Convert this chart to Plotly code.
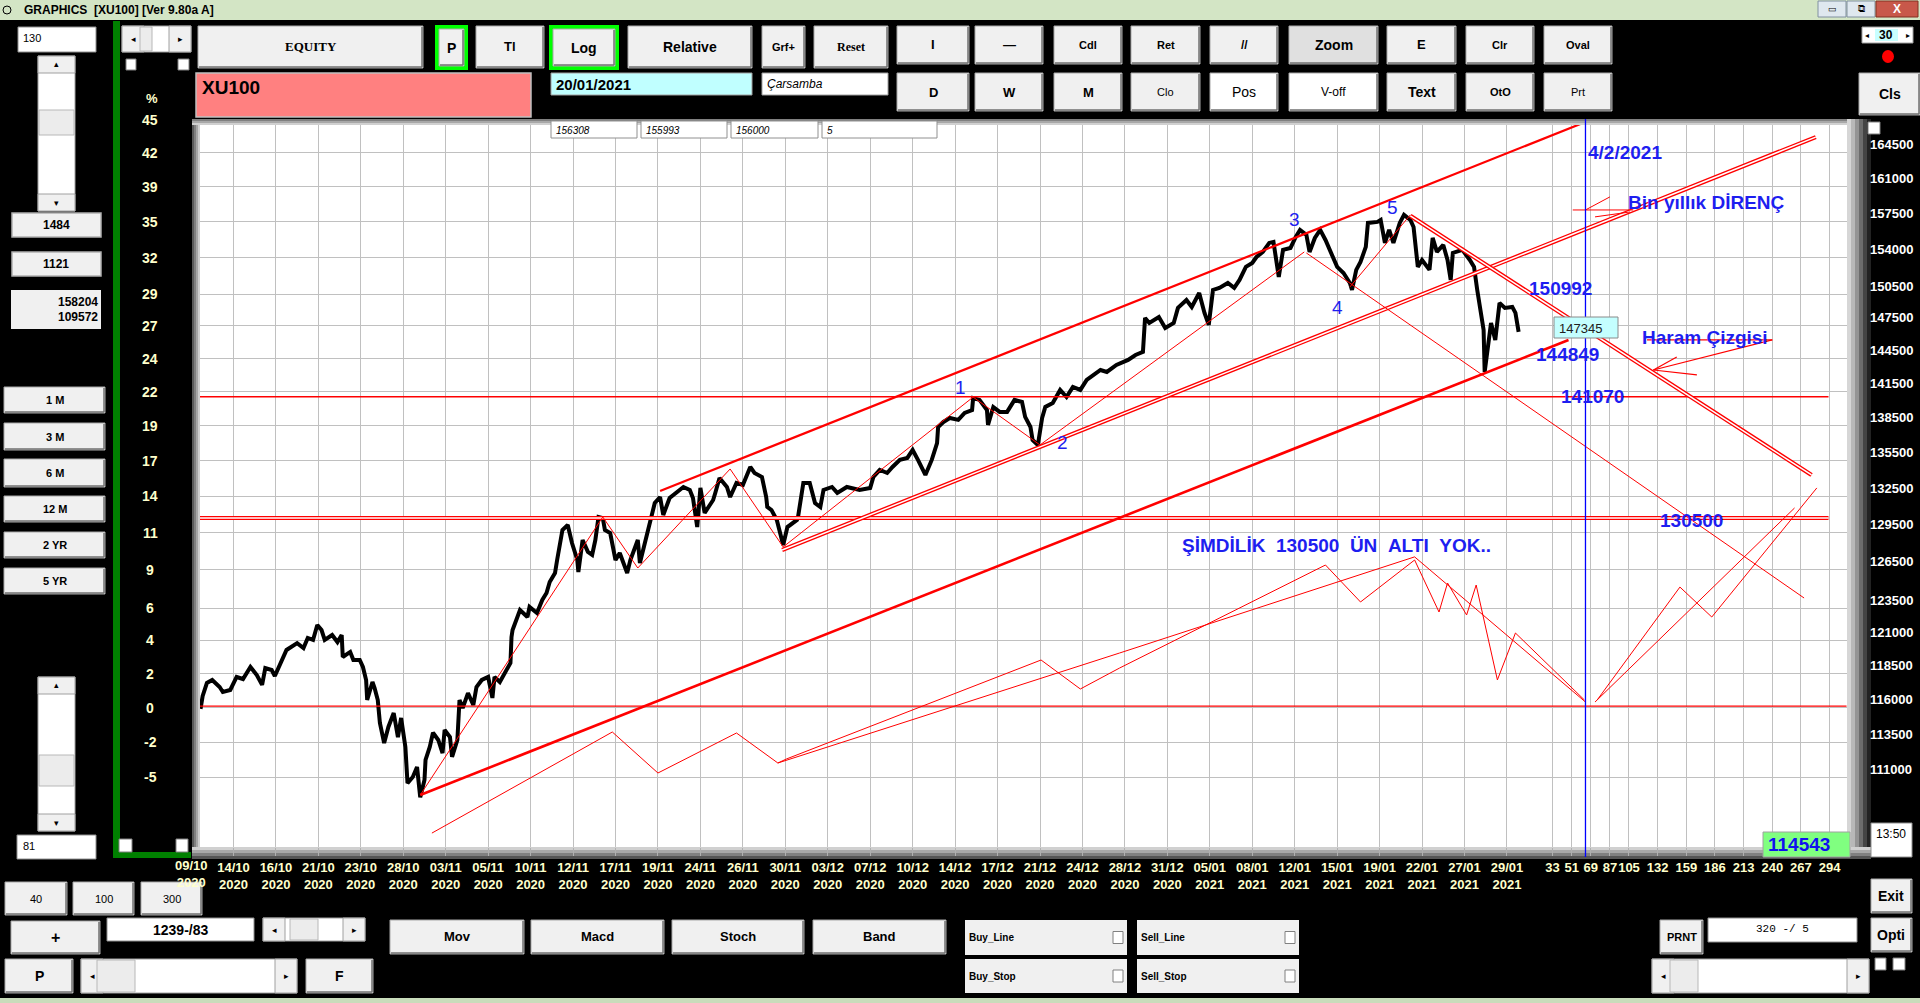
import math
import plotly.graph_objects as go

W, H = 1920, 1003
PL, PR, PT, PB = 200, 1847, 125, 847

# ---------------- data ----------------
date_labels = ["09/10", "14/10", "16/10", "21/10", "23/10", "28/10", "03/11", "05/11",
               "10/11", "12/11", "17/11", "19/11", "24/11", "26/11", "30/11", "03/12",
               "07/12", "10/12", "14/12", "17/12", "21/12", "24/12", "28/12", "31/12",
               "05/01", "08/01", "12/01", "15/01", "19/01", "22/01", "27/01", "29/01"]
date_years = ["2020"] * 24 + ["2021"] * 8
date_bars = [0, 40, 80, 120, 160, 200, 240, 280, 320, 360, 400, 440, 480, 520, 560, 600,
             640, 680, 720, 760, 800, 840, 880, 920, 960, 1000, 1040, 1080, 1120, 1160, 1200, 1240]
last_bar = 1250
future_offsets = [33, 51, 69, 87, 105, 132, 159, 186, 213, 240, 267, 294]

price_axis_labels = [164500, 161000, 157500, 154000, 150500, 147500, 144500, 141500, 138500,
                     135500, 132500, 129500, 126500, 123500, 121000, 118500, 116000, 113500, 111000]
pct_labels = ["45", "42", "39", "35", "32", "29", "27", "24", "22", "19", "17", "14", "11",
              "9", "6", "4", "2", "0", "-2", "-5"]
pct_label_prices = [167900] + price_axis_labels

price_bars = [9, 11, 15, 20, 27, 30, 37, 43, 49, 56, 62, 67, 70, 76, 79, 86, 90, 100, 106, 110,
              115, 119, 123, 126, 133, 138, 142, 143, 150, 153, 159, 162, 165, 166, 171, 173, 176,
              178, 182, 186, 191, 195, 198, 202, 204, 209, 213, 216, 220, 221, 225, 228, 233, 237,
              239, 244, 246, 251, 253, 256, 261, 266, 269, 274, 280, 284, 286, 291, 296, 301, 302,
              303, 310, 317, 319, 326, 331, 335, 338, 343, 345, 350, 355, 359, 364, 365, 369, 374,
              378, 381, 384, 388, 390, 395, 400, 404, 411, 414, 421, 423, 430, 437, 442, 445, 451,
              464, 470, 473, 477, 480, 484, 492, 494, 498, 505, 508, 514, 520, 527, 531, 538, 542,
              543, 547, 552, 558, 562, 571, 572, 577, 583, 588, 593, 596, 604, 609, 618, 630, 640,
              643, 649, 656, 661, 668, 675, 680, 685, 692, 698, 703, 704, 709, 715, 723, 729, 736,
              737, 743, 750, 751, 756, 762, 769, 776, 783, 786, 791, 793, 798, 802, 805, 812, 819,
              825, 831, 838, 844, 857, 863, 872, 883, 890, 897, 899, 903, 912, 918, 926, 930, 938,
              943, 950, 955, 959, 963, 969, 977, 983, 988, 994, 1000, 1004, 1010, 1016, 1020, 1025,
              1029, 1036, 1041, 1045, 1051, 1054, 1059, 1064, 1069, 1074, 1080, 1086, 1092, 1094,
              1098, 1102, 1107, 1109, 1118, 1121, 1125, 1129, 1133, 1139, 1143, 1149, 1152, 1156,
              1160, 1167, 1170, 1174, 1180, 1184, 1187, 1189, 1198, 1205, 1209, 1212, 1215, 1218,
              1219, 1222, 1225, 1229, 1233, 1238, 1245, 1248, 1251]
price_vals = [115900, 116850, 117810, 118030, 117510, 117140, 117290, 118250, 118100, 119000,
              118400, 117660, 118920, 118770, 118320, 119520, 120280, 120800, 120430, 121190,
              121040, 122190, 121800, 121040, 121420, 120880, 121420, 119750, 120130, 119520,
              119520, 119000, 118030, 116550, 117880, 117430, 116550, 114880, 113430, 114590,
              115600, 113860, 115240, 113150, 110610, 111030, 111740, 109630, 110820, 112240,
              113150, 114170, 113650, 112720, 114370, 113860, 112450, 113650, 116550, 115960,
              117060, 116180, 117510, 118030, 118250, 116700, 118250, 117880, 118620, 119300,
              121260, 121800, 123350, 122800, 123580, 123110, 124130, 124670, 125540, 126250,
              127290, 129720, 130130, 128660, 127290, 126330, 128900, 127940, 127700, 128900,
              130790, 130700, 129720, 129470, 127290, 127850, 126250, 127290, 128900, 127050,
              129470, 131940, 132440, 130950, 132360, 133280, 133030, 132360, 129960, 133200,
              131120, 132190, 132780, 134040, 133280, 132440, 133620, 133450, 134970, 134460,
              134120, 132440, 131610, 131360, 130540, 128500, 129960, 130540, 130790, 133620,
              133620, 131940, 131610, 133030, 133280, 132780, 133280, 133030, 133200, 134120,
              134720, 134460, 134970, 135570, 135740, 136420, 135570, 134290, 135570, 137020,
              138410, 138850, 139200, 139030, 139640, 139900, 140960, 140790, 139900, 138590,
              140160, 139730, 139730, 140790, 140610, 139290, 138410, 137290, 136850, 139200,
              140170, 140520, 141680, 141050, 141940, 141680, 142570, 143470, 143290, 143920,
              144380, 144830, 145110, 148250, 147780, 148340, 147320, 147780, 149190, 149940,
              149280, 150600, 148720, 147600, 150890, 151080, 151550, 151080, 151840, 153090,
              153470, 154050, 154540, 155420, 155520, 152130, 154740, 154930, 156010, 156700,
              156200, 154540, 155910, 156700, 155710, 154540, 153090, 152510, 151550, 150890,
              152800, 153570, 155030, 157390, 157490, 157690, 155420, 156700, 155420, 157390,
              158190, 157690, 156990, 153090, 153760, 152800, 155910, 154540, 155220, 153760,
              151840, 154440, 154740, 153760, 153090, 150890, 149000, 147130, 143290, 145580,
              147780, 146210, 149660, 149190, 149280, 148720, 146950]

# user-drawn red lines (bar index, price)
upper_channel_bars = [442, 1321]
upper_channel_vals = [132950, 168035]
lower_support_bars = [216, 1298]
lower_support_vals = [109780, 146210]
mid_channel_bars = [557, 1531]
mid_channel_vals = [128096, 166130]
haram_bars = [1149, 1527]
haram_vals = [158090, 134290]
long_down_bars = [1051, 1520]
long_down_vals = [154440, 124280]
wave_bars = [216, 388, 421, 508, 558, 737, 800, 1049]
wave_vals = [109780, 130786, 126650, 134800, 128340, 141040, 136855, 154540]
wave45_bars = [1092, 1149]
wave45_vals = [151170, 158190]
low_zig_bars = [227, 397, 440, 514, 553]
low_zig_vals = [107180, 114224, 111313, 114152, 112016]
fan1_bars = [553, 561, 801, 838, 875, 1069, 1102, 1153, 1176, 1184, 1202, 1211, 1231, 1248, 1313]
fan1_vals = [112016, 112298, 119522, 117360, 118920, 126890, 123970, 127290, 123190, 125460,
             122960, 125300, 118030, 121570, 116550]
fan2_bars = [553, 875, 1153, 1314]
fan2_vals = [112016, 120050, 127540, 116400]
rise1_bars = [1325, 1403, 1433, 1532]
rise1_vals = [116550, 125140, 122800, 133200]
rise2_bars = [1323, 1511]
rise2_vals = [116400, 131530]
h_levels = [141070, 130700, 116100]
h_level_end_bars = [1543, 1543, 1560]
direnc_arrow_bars = [[1302, 1359], [1314, 1337], [1323, 1356]]
direnc_arrow_vals = [[158680, 158680], [158680, 159990], [157990, 158480]]
haram_arrow_bars = [[1372, 1490], [1378, 1490], [1378, 1400], [1378, 1419]]
haram_arrow_vals = [[146210, 146210], [143470, 146210], [143470, 144650], [143470, 143020]]
date_marker_bar = 1314
value_labels = ["150992", "144849", "141070", "130500"]

# ---------------- helpers ----------------
def px(x):
    return (x - PL) / (PR - PL)


def py(y):
    return (PB - y) / (PB - PT)


shapes = []
annos = []


def rect(x0, y0, x1, y1, fill, line="rgba(0,0,0,0)", lw=0, layer="above"):
    shapes.append(dict(type="rect", xref="paper", yref="paper", x0=px(x0), x1=px(x1),
                       y0=py(y1), y1=py(y0), fillcolor=fill,
                       line=dict(color=line, width=lw), layer=layer))


def seg(x0, y0, x1, y1, color, w=1, layer="above"):
    shapes.append(dict(type="line", xref="paper", yref="paper", x0=px(x0), x1=px(x1),
                       y0=py(y0), y1=py(y1), line=dict(color=color, width=w), layer=layer))


def txt(x, y, s, size=12, color="black", bold=False, anchor="center", italic=False,
        family="Arial"):
    if bold:
        s = "<b>" + s + "</b>"
    if italic:
        s = "<i>" + s + "</i>"
    annos.append(dict(xref="paper", yref="paper", x=px(x), y=py(y), text=s, showarrow=False,
                      xanchor=anchor, yanchor="middle",
                      font=dict(size=size, color=color, family=family)))


def button(x0, y0, x1, y1, label, size=13, bold=True, fill="#f0f0f0", family="Arial"):
    rect(x0, y0, x1, y1, fill, "#a8a8a8", 1)
    seg(x0 + 1, y1 - 1, x1 - 1, y1 - 1, "#707070", 1.5)
    seg(x1 - 1, y0 + 1, x1 - 1, y1 - 1, "#707070", 1.5)
    txt((x0 + x1) / 2, (y0 + y1) / 2, label, size, bold=bold, family=family)


def checkbox(x0, y0, x1, y1):
    rect(x0, y0, x1, y1, "white", "#808080", 1)


def hscroll(x0, y0, x1, y1, t0, t1):
    rect(x0, y0, x1, y1, "white", "#a0a0a0", 1)
    aw = min(22, (y1 - y0))
    rect(x0, y0, x0 + aw, y1, "#f0f0f0", "#a0a0a0", 1)
    rect(x1 - aw, y0, x1, y1, "#f0f0f0", "#a0a0a0", 1)
    rect(t0, y0 + 1, t1, y1 - 1, "#ececec", "#b8b8b8", 1)
    txt(x0 + aw / 2, (y0 + y1) / 2, "◂", 9)
    txt(x1 - aw / 2, (y0 + y1) / 2, "▸", 9)


def vscroll(x0, y0, x1, y1, t0, t1):
    rect(x0, y0, x1, y1, "white", "#a0a0a0", 1)
    rect(x0, y0, x1, y0 + 17, "#f0f0f0", "#a0a0a0", 1)
    rect(x0, y1 - 17, x1, y1, "#f0f0f0", "#a0a0a0", 1)
    if t1 > t0:
        rect(x0 + 1, t0, x1 - 1, t1, "#ececec", "#b8b8b8", 1)
    txt((x0 + x1) / 2, y0 + 8, "▴", 9)
    txt((x0 + x1) / 2, y1 - 8, "▾", 9)


# ---------------- figure ----------------
fig = go.Figure()

fig.add_trace(go.Scatter(x=price_bars, y=price_vals, mode="lines",
                         line=dict(color="black", width=4), hoverinfo="skip"))


def red(xs, ys, w=1.0):
    fig.add_trace(go.Scatter(x=xs, y=ys, mode="lines", line=dict(color="#ff0000", width=w),
                             hoverinfo="skip"))


def dred(xs, ys):
    red(xs, ys, 4.2)
    fig.add_trace(go.Scatter(x=xs, y=ys, mode="lines", line=dict(color="white", width=1.5),
                             hoverinfo="skip"))


x_left = (PL - 191) / 1.06125
x_right = (PR - 191) / 1.06125

for lv, eb in zip(h_levels, h_level_end_bars):
    if lv == 130700:
        dred([x_left, eb], [lv, lv])
    else:
        red([x_left, eb], [lv, lv], 1.3)

red(upper_channel_bars, upper_channel_vals, 2.2)
red(lower_support_bars, lower_support_vals, 2.6)
dred(mid_channel_bars, mid_channel_vals)
dred(haram_bars, haram_vals)
red(long_down_bars, long_down_vals, 1)
red(wave_bars, wave_vals, 1)
red(wave45_bars, wave45_vals, 1)
red(low_zig_bars, low_zig_vals, 1)
red(fan1_bars, fan1_vals, 1)
red(fan2_bars, fan2_vals, 1)
red(rise1_bars, rise1_vals, 1)
red(rise2_bars, rise2_vals, 1)
for xs, ys in zip(direnc_arrow_bars, direnc_arrow_vals):
    red(xs, ys, 1)
for xs, ys in zip(haram_arrow_bars, haram_arrow_vals):
    red(xs, ys, 1.2)

# vertical date marker
shapes.append(dict(type="line", xref="x", yref="paper", x0=date_marker_bar, x1=date_marker_bar,
                   y0=py(857), y1=py(119), line=dict(color="#0000ff", width=1.3), layer="above"))

# ticks
tickvals = date_bars + [last_bar + o for o in future_offsets]
ticktext = [d + "<br>" + y for d, y in zip(date_labels, date_years)] + [str(o) for o in future_offsets]

fig.update_xaxes(range=[x_left, x_right], tickvals=tickvals[1:], ticktext=ticktext[1:],
                 tickangle=0, showgrid=True, gridcolor="#c0c0c0", gridwidth=1, zeroline=False,
                 ticks="outside", ticklen=8, tickcolor="#b0b0b0", showline=False,
                 tickfont=dict(family="Arial", size=13, color="#ffffcc", weight="bold"))
fig.update_yaxes(type="log", range=[math.log10(106245), math.log10(167400)],
                 tickvals=price_axis_labels, showticklabels=False, showgrid=True,
                 gridcolor="#c0c0c0", gridwidth=1, zeroline=False, ticks="", showline=False)

# first date label (sits left of the plot edge, at bar 0)
x0_px = 191 + date_bars[0] * 1.06125
annos.append(dict(xref="paper", x=px(x0_px), yref="paper", y=py(856), yanchor="top",
                  xanchor="center", showarrow=False,
                  text="<b>" + date_labels[0] + "<br>" + date_years[0] + "</b>",
                  font=dict(family="Arial", size=13, color="#ffffcc")))

# right price labels / left percent labels
for v in price_axis_labels:
    annos.append(dict(xref="paper", x=px(1891), yref="y", y=math.log10(v), yshift=8,
                      showarrow=False, xanchor="center", yanchor="middle",
                      text="<b>%d</b>" % v, font=dict(family="Arial", size=13, color="white")))
for lab, v in zip(pct_labels[1:], pct_label_prices[1:]):
    annos.append(dict(xref="paper", x=px(150), yref="y", y=math.log10(v),
                      showarrow=False, xanchor="center", yanchor="middle",
                      text="<b>%s</b>" % lab, font=dict(family="Arial", size=14, color="#ffffcc")))
# top percent label lies above the axis range -> paper position
txt(150, 120, pct_labels[0], 14, "#ffffcc", bold=True)

# ---------------- plot frame (3D border) ----------------
for i, c in enumerate(["#5a5a5a", "#808080", "#a6a6a6", "#cfcfcf"]):
    rect(192 + 2 * i, 119, 194 + 2 * i, 858, c, layer="below")
for i, c in enumerate(["#808080", "#a8a8a8", "#d0d0d0"]):
    rect(192, 119 + 2 * i, 1871, 121 + 2 * i, c, layer="below")
for i, c in enumerate(["#d6d6d6", "#b8b8b8", "#949494", "#6c6c6c", "#444444", "#222222"]):
    rect(1847 + 4 * i, 119, 1851 + 4 * i, 858, c, layer="below")
for i, c in enumerate(["#d0d0d0", "#a8a8a8", "#808080", "#555555"]):
    rect(192, 847 + 3 * i, 1871, 850 + 3 * i, c, layer="below")

# ---------------- chart texts ----------------
BLUE = "#1e1ef0"
txt(1586, 153, "4/2/2021", 19, BLUE, bold=True, anchor="left")
txt(1626, 203, "Bin yıllık DİRENÇ", 19, BLUE, bold=True, anchor="left")
for lab, xl in zip(value_labels, [1527, 1534, 1559, 1658]):
    annos.append(dict(xref="paper", x=px(xl), yref="y", y=math.log10(int(lab)),
                      showarrow=False, xanchor="left", yanchor="middle",
                      text="<b>%s</b>" % lab, font=dict(family="Arial", size=19, color=BLUE)))
txt(1640, 337, "Haram Çizgisi", 19, BLUE, bold=True, anchor="left")
nb = "\u00a0"
txt(1180, 545, "ŞİMDİLİK" + nb * 2 + "130500" + nb * 2 + "ÜN" + nb * 2 + "ALTI" + nb * 2 + "YOK..",
    19, BLUE, bold=True, anchor="left")
for lab, (x, y) in zip(["1", "2", "3", "4", "5"],
                       [(960, 387), (1062, 442), (1294, 219), (1337, 307), (1392, 207)]):
    txt(x, y, lab, 19, BLUE)

# last value box
rect(1554, 317, 1618, 338, "#c4ffff", "#8a8a8a", 1)
txt(1557, 328, "147345", 13, "#202020", anchor="left")

# ---------------- window chrome ----------------
rect(0, 0, 1920, 20, "#d3e5c5")
shapes.append(dict(type="circle", xref="paper", yref="paper", x0=px(3), x1=px(11),
                   y0=py(14), y1=py(6), line=dict(color="black", width=1), layer="above"))
txt(22, 10, "GRAPHICS  [XU100] [Ver 9.80a A]", 12, bold=True, anchor="left")
rect(1818, 1, 1846, 17, "#dfe8ef", "#8090a0", 1)
txt(1832, 9, "▭", 9)
rect(1847, 1, 1875, 17, "#dfe8ef", "#8090a0", 1)
txt(1861, 9, "⧉", 10)
rect(1876, 1, 1918, 17, "#c8584a", "#803020", 1)
txt(1897, 9, "X", 12, "white", bold=True)
rect(0, 998, 1920, 1003, "#c9dcbb")

# green frame on left
rect(113, 21, 120, 858, "#008000")
rect(113, 852, 191, 858, "#008000")

# top-left controls
rect(18, 27, 96, 52, "white", "#909090", 1)
txt(21, 38, "130", 11, anchor="left")
vscroll(38, 56, 75, 211, 110, 135)
hscroll(122, 26, 191, 52, 140, 152)
checkbox(126, 59, 136, 70)
checkbox(178, 59, 189, 70)
txt(152, 99, "%", 13, "#ffffcc", bold=True)

# top button rows
button(198, 26, 423, 68, "EQUITY", 13, family="Times New Roman")
rect(435, 25, 468, 70, "#00ff00")
button(439, 29, 464, 66, "P", 14)
button(476, 26, 544, 68, "Tl", 13)
rect(549, 25, 619, 70, "#00ff00")
button(553, 29, 615, 66, "Log", 14)
button(628, 26, 752, 68, "Relative", 14)
button(762, 26, 805, 68, "Grf+", 11)
button(814, 26, 888, 68, "Reset", 12, family="Times New Roman")
row1 = [(897, 969, "I", 13, "#f0f0f0"), (975, 1043, "—", 13, "#f0f0f0"),
        (1054, 1122, "Cdl", 11, "#f0f0f0"), (1131, 1200, "Ret", 11, "#f0f0f0"),
        (1210, 1278, "//", 12, "#f0f0f0"), (1289, 1378, "Zoom", 14, "#e0e0e0"),
        (1387, 1456, "E", 13, "#f0f0f0"), (1466, 1534, "Clr", 11, "#f0f0f0"),
        (1544, 1612, "Oval", 11, "#f0f0f0")]
for x0, x1, lab, s, f in row1:
    button(x0, 26, x1, 64, lab, s, fill=f)
row2 = [(897, 969, "D", 13, "#f0f0f0", True), (975, 1043, "W", 13, "#f0f0f0", True),
        (1054, 1122, "M", 13, "#f0f0f0", True), (1131, 1200, "Clo", 11, "#f0f0f0", False),
        (1210, 1278, "Pos", 14, "white", False), (1289, 1378, "V-off", 12, "white", False),
        (1387, 1456, "Text", 14, "#f0f0f0", True), (1466, 1534, "OtO", 11, "#f0f0f0", True),
        (1544, 1612, "Prt", 11, "#f0f0f0", False)]
for x0, x1, lab, s, f, b in row2:
    button(x0, 73, x1, 111, lab, s, bold=b, fill=f)

rect(196, 73, 531, 117, "#ff8080", "#c0c0c0", 1.5)
txt(200, 87, "XU100", 19, bold=True, anchor="left")
rect(551, 73, 752, 95, "#c0ffff", "#a0a0a0", 1)
txt(554, 84, "20/01/2021", 15, bold=True, anchor="left")
rect(762, 73, 888, 95, "white", "#a0a0a0", 1)
txt(765, 84, "Çarsamba", 12, italic=True, anchor="left")
for (x0, x1), lab in zip([(551, 637), (641, 727), (731, 818), (822, 937)],
                         ["156308", "155993", "156000", "5"]):
    rect(x0, 121, x1, 138, "white", "#909090", 1)
    txt(x0 + 3, 130, lab, 10, italic=True, anchor="left")

# top right
rect(1862, 27, 1913, 43, "white", "#a0a0a0", 1)
rect(1875, 29, 1898, 41, "#c8ffff")
txt(1886, 35, "30", 12, bold=True)
txt(1867, 35, "◂", 8)
txt(1908, 35, "▸", 8)
shapes.append(dict(type="circle", xref="paper", yref="paper", x0=px(1882), x1=px(1894),
                   y0=py(63), y1=py(50), fillcolor="#ff0000", line=dict(color="#ff0000", width=0),
                   layer="above"))
button(1859, 73, 1920, 115, "Cls", 14)
checkbox(1868, 122, 1880, 134)

# left panel
for (y0, y1), lab in zip([(213, 237), (252, 276)], ["1484", "1121"]):
    rect(12, y0, 101, y1, "#f0f0f0", "#b0b0b0", 1.5)
    txt(56, (y0 + y1) / 2, lab, 12, bold=True)
rect(11, 290, 101, 329, "#f0f0f0")
txt(100, 302, "158204", 12, bold=True, anchor="right")
txt(100, 317, "109572", 12, bold=True, anchor="right")
for (y0, y1), lab in zip([(387, 413), (423, 450), (459, 487), (496, 522), (532, 558), (568, 594)],
                         ["1 M", "3 M", "6 M", "12 M", "2 YR", "5 YR"]):
    button(4, y0, 105, y1, lab, 11)
vscroll(38, 677, 75, 831, 755, 786)
rect(17, 835, 96, 859, "white", "#909090", 1)
txt(21, 846, "81", 11, anchor="left")
checkbox(119, 839, 132, 852)
checkbox(176, 839, 188, 852)

# bottom-left controls
button(5, 882, 67, 915, "40", 11, bold=False)
button(73, 882, 134, 915, "100", 11, bold=False)
button(141, 882, 202, 915, "300", 11, bold=False)
button(11, 921, 100, 954, "+", 16)
rect(107, 918, 254, 941, "white", "#909090", 1)
txt(180, 930, "1239-/83", 14, bold=True)
hscroll(263, 918, 365, 941, 290, 318)
button(5, 959, 73, 993, "P", 14)
hscroll(81, 959, 297, 993, 97, 135)
button(306, 959, 373, 993, "F", 14)

# bottom buttons
for (x0, x1), lab in zip([(390, 524), (531, 664), (672, 804), (813, 946)],
                         ["Mov", "Macd", "Stoch", "Band"]):
    button(x0, 920, x1, 954, lab, 13)
for (x0, x1, y0, y1), lab in zip([(965, 1127, 920, 955), (1137, 1299, 920, 955),
                                  (965, 1127, 959, 993), (1137, 1299, 959, 993)],
                                 ["Buy_Line", "Sell_Line", "Buy_Stop", "Sell_Stop"]):
    rect(x0, y0, x1, y1, "#f0f0f0")
    txt(x0 + 2, (y0 + y1) / 2, lab, 10, bold=True, anchor="left")
    checkbox(x1 - 14, (y0 + y1) / 2 - 6, x1 - 4, (y0 + y1) / 2 + 6)

# bottom right
rect(1763, 832, 1850, 857, "#80ff80", "#a0a0a0", 1)
txt(1766, 844, "114543", 19, "#1010f0", bold=True, anchor="left")
rect(1871, 823, 1912, 857, "white", "#909090", 1)
txt(1874, 834, "13:50", 12, anchor="left")
button(1871, 879, 1912, 913, "Exit", 14)
button(1871, 918, 1912, 952, "Opti", 14)
button(1660, 920, 1703, 954, "PRNT", 11)
rect(1708, 918, 1857, 942, "white", "#909090", 1)
txt(1754, 929, "320 -/ 5", 11, family="Courier New", anchor="left")
hscroll(1652, 959, 1869, 993, 1670, 1698)
checkbox(1875, 958, 1886, 970)
checkbox(1893, 958, 1905, 970)

fig.update_layout(width=W, height=H, margin=dict(l=PL, r=W - PR, t=PT, b=H - PB, pad=0),
                  paper_bgcolor="black", plot_bgcolor="white", showlegend=False,
                  shapes=shapes, annotations=annos)

fig.write_html("out.html", config={"displayModeBar": False, "staticPlot": True},
               post_script="document.body.style.margin='0';document.body.style.padding='0';"
                           "document.body.style.overflow='hidden';"
                           "document.documentElement.style.overflow='hidden';")
